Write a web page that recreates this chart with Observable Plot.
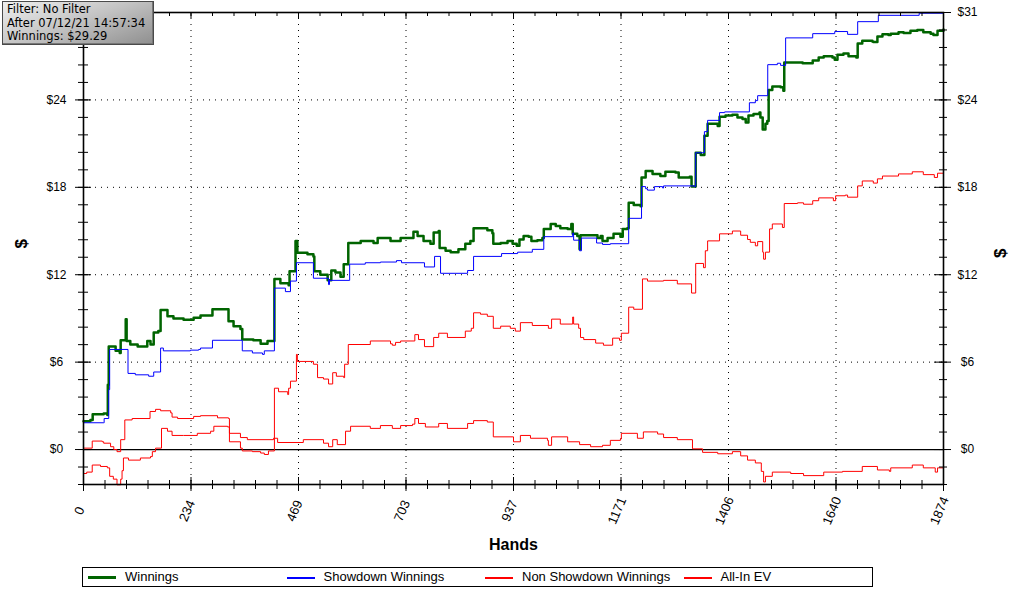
<!DOCTYPE html>
<html><head><meta charset="utf-8">
<script src="https://cdn.jsdelivr.net/npm/d3@7"></script>
<script src="https://cdn.jsdelivr.net/npm/@observablehq/plot@0.6"></script>
<style>
html,body{margin:0;padding:0;background:#fff;}
#wrap{position:relative;width:1022px;height:592px;overflow:hidden;font-family:"Liberation Sans",Arial,sans-serif;}
#chart{position:absolute;left:0;top:0;}
#info{position:absolute;left:2px;top:1px;width:146px;height:41px;border:1px solid #4a4a4a;background:linear-gradient(160deg,#efefef 0%,#c2c2c2 50%,#8f8f8f 100%);font-family:"DejaVu Sans",Verdana,sans-serif;font-size:11.5px;line-height:13.6px;padding:1px 0 0 4px;color:#000;white-space:nowrap;box-shadow:inset -1px -1px 0 #777;}
#legend{position:absolute;left:82px;top:567px;width:791px;height:20px;border:1px solid #000;box-sizing:border-box;background:#fff;}
.sw{position:absolute;top:9px;width:28px;}
.lt{position:absolute;top:1px;font-size:13px;line-height:16px;color:#000;white-space:nowrap;}
</style></head>
<body>
<div id="wrap">
  <div id="chart"></div>
  <div id="info"></div>
  <div id="legend"></div>
</div>
<script>
// ---- data: [hand, dollars] ----
const winnings = [[0,2.0],[15,2.1],[20,2.5],[44,2.55],[52,2.45],[53,4.6],[55,7.3],[70,7.0],[79,6.85],[81,7.75],[92,9.25],[94,7.7],[102,7.45],[118,7.3],[139,7.7],[146,7.45],[153,8.3],[163,8.4],[168,9.9],[183,9.45],[196,9.3],[218,9.2],[240,9.35],[255,9.5],[281,9.95],[309,9.95],[316,9.1],[327,8.75],[342,8.55],[346,7.8],[370,7.75],[386,7.5],[401,7.7],[414,7.7],[416,12.1],[429,11.8],[447,11.65],[449,12.65],[460,12.65],[462,14.8],[466,13.95],[488,13.85],[501,13.7],[503,12.65],[516,12.4],[532,12.0],[540,12.7],[549,12.55],[560,12.25],[567,13.15],[577,14.65],[604,14.8],[632,14.65],[641,15.0],[669,14.8],[691,15.0],[719,15.45],[728,15.15],[741,14.8],[756,14.6],[763,15.4],[774,15.5],[776,14.3],[789,14.1],[800,14.0],[817,14.2],[832,14.6],[843,14.8],[850,15.7],[865,15.7],[880,15.55],[891,15.35],[893,14.6],[909,14.65],[924,14.8],[935,14.6],[944,14.45],[950,14.9],[959,15.15],[970,15.1],[976,14.8],[989,14.85],[1000,15.0],[1003,15.65],[1018,16.0],[1029,15.85],[1039,15.7],[1055,15.65],[1063,16.0],[1066,15.3],[1076,15.15],[1081,14.2],[1083,15.2],[1111,15.2],[1120,15.0],[1127,15.15],[1131,14.8],[1142,15.0],[1155,15.3],[1170,15.1],[1175,15.65],[1185,15.7],[1188,17.5],[1199,17.35],[1214,17.25],[1216,19.3],[1225,19.75],[1240,19.55],[1257,19.4],[1268,19.7],[1290,19.65],[1297,19.3],[1321,19.35],[1325,18.65],[1334,21.05],[1345,20.9],[1353,22.25],[1360,23.1],[1382,22.95],[1386,23.6],[1399,23.7],[1414,23.75],[1425,23.55],[1436,23.45],[1443,23.2],[1449,23.7],[1460,23.8],[1473,23.9],[1475,23.55],[1480,22.7],[1486,23.1],[1490,23.3],[1493,25.5],[1501,25.75],[1519,25.7],[1525,25.45],[1527,27.45],[1556,27.45],[1567,27.4],[1578,27.4],[1589,27.6],[1602,27.8],[1613,27.9],[1632,27.8],[1637,27.65],[1643,28.0],[1656,28.1],[1667,27.9],[1684,27.8],[1687,28.8],[1697,29.0],[1719,28.95],[1721,28.9],[1730,29.3],[1741,29.45],[1754,29.4],[1759,29.5],[1776,29.6],[1787,29.55],[1802,29.7],[1817,29.75],[1830,29.6],[1846,29.5],[1852,29.4],[1861,29.7],[1874,29.8]];

const showdownWinnings = [[0,1.9],[44,1.9],[45,2.2],[55,4.25],[57,7.1],[97,5.4],[113,5.3],[142,5.2],[153,5.5],[168,7.2],[174,7.0],[233,7.05],[251,7.1],[255,7.2],[281,7.75],[346,7.0],[368,6.85],[390,6.75],[394,7.0],[416,11.45],[440,11.2],[451,11.95],[464,13.25],[501,12.15],[534,11.7],[536,12.0],[580,13.15],[614,13.25],[647,13.3],[682,13.4],[693,13.25],[743,12.95],[765,13.7],[778,12.5],[837,12.7],[850,13.7],[911,13.9],[946,14.0],[978,14.2],[1003,15.1],[1066,15.35],[1068,14.85],[1081,14.1],[1085,15.0],[1118,14.65],[1131,14.55],[1148,14.6],[1188,16.4],[1216,18.65],[1225,18.5],[1229,18.4],[1244,18.65],[1262,18.55],[1264,18.7],[1331,18.65],[1334,21.05],[1353,22.55],[1360,23.35],[1386,23.9],[1397,23.95],[1451,24.6],[1464,24.75],[1469,25.1],[1491,27.3],[1512,27.4],[1519,27.25],[1530,29.2],[1589,29.5],[1637,29.65],[1665,29.45],[1687,30.35],[1732,30.8],[1821,30.95],[1874,30.95]];

const nonShowdownWinnings = [[0,0.1],[19,0.6],[41,0.55],[44,0.45],[59,0.2],[66,0.0],[73,-0.15],[81,0.7],[90,2.1],[106,2.2],[145,2.7],[157,2.85],[168,2.75],[190,2.6],[193,2.3],[205,2.2],[240,2.35],[255,2.4],[292,2.25],[316,2.2],[318,1.15],[342,0.85],[357,0.7],[414,0.8],[423,0.5],[479,0.7],[523,0.45],[534,0.2],[543,0.7],[553,0.35],[571,1.3],[582,1.65],[625,1.5],[647,1.7],[673,1.5],[691,1.7],[717,1.8],[722,2.2],[730,1.85],[745,1.6],[774,1.85],[793,1.5],[837,1.85],[850,2.05],[880,1.95],[893,0.9],[937,0.55],[952,1.0],[974,0.8],[1011,0.65],[1013,0.3],[1020,0.9],[1055,0.55],[1081,0.35],[1105,0.2],[1131,0.3],[1148,0.65],[1170,0.75],[1172,1.15],[1207,0.8],[1220,1.25],[1251,1.1],[1264,0.85],[1294,0.7],[1327,0.05],[1349,-0.2],[1382,-0.3],[1414,-0.15],[1432,-0.45],[1447,-0.75],[1464,-0.95],[1477,-1.55],[1482,-2.3],[1486,-1.9],[1501,-1.6],[1541,-1.7],[1569,-1.85],[1613,-1.6],[1654,-1.55],[1697,-1.2],[1730,-1.45],[1756,-1.55],[1759,-1.3],[1806,-1.1],[1830,-1.3],[1856,-1.6],[1861,-1.3],[1874,-1.3]];

const allInEV = [[0,-1.7],[7,-1.6],[19,-1.1],[37,-1.2],[52,-1.3],[57,-1.9],[65,-2.1],[73,-2.5],[81,-2.1],[84,-1.5],[87,-0.6],[98,-0.75],[124,-0.6],[146,-0.5],[150,-0.15],[157,0.1],[170,1.5],[183,1.3],[193,1.0],[218,1.0],[248,1.15],[277,1.3],[284,1.65],[314,1.6],[318,0.55],[342,0.1],[346,-0.1],[368,-0.15],[386,-0.25],[394,-0.35],[403,-0.1],[416,4.35],[425,4.1],[445,3.9],[447,4.35],[451,4.85],[464,6.75],[466,6.25],[501,6.05],[510,5.1],[523,5.0],[534,4.65],[543,5.45],[551,5.2],[567,5.1],[569,6.05],[577,7.45],[625,7.7],[669,7.5],[673,7.4],[680,7.6],[691,7.7],[722,8.15],[730,7.8],[743,7.3],[763,7.95],[774,8.25],[793,7.95],[832,8.4],[845,8.6],[850,9.7],[865,9.6],[880,9.45],[893,8.6],[909,8.75],[930,8.6],[941,8.4],[952,9.0],[978,8.8],[1013,8.6],[1020,9.25],[1039,8.9],[1066,9.4],[1068,8.9],[1079,8.6],[1083,7.95],[1090,7.8],[1116,7.55],[1133,7.4],[1153,7.9],[1168,7.75],[1172,8.25],[1188,10.1],[1199,9.95],[1218,12.1],[1229,11.95],[1264,12.0],[1294,11.75],[1325,11.1],[1334,13.2],[1351,12.9],[1355,14.1],[1360,14.8],[1386,15.3],[1414,15.5],[1432,15.2],[1447,14.9],[1453,14.7],[1464,14.45],[1469,14.75],[1480,14.0],[1482,13.5],[1486,14.0],[1495,15.65],[1501,16.0],[1523,15.75],[1527,17.45],[1556,17.5],[1569,17.4],[1589,17.65],[1602,17.85],[1634,17.65],[1639,18.0],[1660,18.05],[1665,17.9],[1687,18.7],[1697,19.05],[1721,18.9],[1730,19.2],[1741,19.4],[1776,19.55],[1806,19.7],[1830,19.5],[1854,19.3],[1861,19.6],[1874,19.7]];

// ---- ticks & labels ----
const xTickValues = [0, 234.25, 468.5, 702.75, 937, 1171.25, 1405.5, 1639.75, 1874];
const xTickLabels = ["0","234","469","703","937","1171","1406","1640","1874"];
const yTickValues = [0, 6.2, 12.4, 18.6, 24.8, 31];
const yTickLabels = ["$0","$6","$12","$18","$24","$31"];
const yDomain = [-2.48, 31];
const xDomain = [0, 1874];

const infoLines = ["Filter: No Filter", "After 07/12/21 14:57:34", "Winnings: $29.29"];

const seriesNames = ["Winnings", "Showdown Winnings", "Non Showdown Winnings", "All-In EV"];
const seriesColors = ["#006400", "#0000ff", "#ff0000", "#ff0000"];
const seriesData = [winnings, showdownWinnings, nonShowdownWinnings, allInEV];
const seriesWidths = [2.5, 1, 1, 1];

// ---- layout ----
const W = 1022, H = 560, mL = 83, mR = 79, mT = 12, mB = 76;
const innerW = W - mL - mR, innerH = H - mT - mB;

const yMinor = d3.range(-2, 26).map(k => k * 1.24);
const xMinor = d3.range(0, 41).map(k => k * 1874 / 40);
const yGrid = yTickValues.filter(v => v > 0 && v < 31);
const xGrid = xTickValues.filter(v => v > 0 && v < 1874);
// the top-left label sits under the info box in the reference
const yLeftIdx = yTickValues.map((v, i) => i).filter(i => yTickValues[i] < 31);

const lineMarks = seriesData.map((data, i) => Plot.line(data, {
  x: d => d[0], y: d => d[1], curve: "step-after",
  stroke: seriesColors[i], strokeWidth: seriesWidths[i]
}));

const chart = Plot.plot({
  width: W, height: H,
  marginLeft: mL, marginRight: mR, marginTop: mT, marginBottom: mB,
  x: {domain: xDomain, axis: null},
  y: {domain: yDomain, axis: null},
  style: {fontFamily: "'Liberation Sans', Arial, sans-serif", background: "transparent", overflow: "visible"},
  marks: [
    Plot.ruleY(yGrid, {y: d => d, stroke: "black", strokeDasharray: "1,5"}),
    Plot.ruleX(xGrid, {x: d => d, stroke: "black", strokeDasharray: "1,5"}),
    Plot.ruleY([0], {y: d => d, stroke: "black", strokeWidth: 1.2}),
    ...lineMarks,
    Plot.frame({stroke: "black", strokeWidth: 1.6}),
    // left ticks
    Plot.tickY(yMinor, {y: d => d, insetLeft: -5, insetRight: innerW - 5, stroke: "black"}),
    Plot.tickY(yTickValues, {y: d => d, insetLeft: -8, insetRight: innerW - 8, stroke: "black"}),
    // right ticks
    Plot.tickY(yMinor, {y: d => d, insetLeft: innerW - 4, insetRight: -4, stroke: "black"}),
    Plot.tickY(yTickValues, {y: d => d, insetLeft: innerW - 9, insetRight: -8, stroke: "black"}),
    // bottom ticks
    Plot.tickX(xMinor, {x: d => d, insetTop: innerH - 4, insetBottom: -5, stroke: "black"}),
    Plot.tickX(xTickValues, {x: d => d, insetTop: innerH - 7, insetBottom: -7, stroke: "black"}),
    // top ticks
    Plot.tickX(xMinor, {x: d => d, insetTop: 0, insetBottom: innerH - 4, stroke: "black"}),
    Plot.tickX(xTickValues, {x: d => d, insetTop: 0, insetBottom: innerH - 6, stroke: "black"}),
    // tick labels
    Plot.text(yLeftIdx, {y: i => yTickValues[i], text: i => yTickLabels[i], frameAnchor: "left", dx: -27, textAnchor: "middle", fontSize: 12, fill: "black"}),
    Plot.text(yTickValues, {y: d => d, text: (d, i) => yTickLabels[i], frameAnchor: "right", dx: 24, textAnchor: "middle", fontSize: 12, fill: "black"}),
    Plot.text(xTickValues, {x: d => d, text: (d, i) => xTickLabels[i], frameAnchor: "bottom", dy: 28, rotate: -67, textAnchor: "middle", fontSize: 13, fill: "black"}),
    // axis titles
    Plot.text(["$"], {text: d => d, frameAnchor: "left", dx: -62, rotate: -90, fontWeight: "bold", fontSize: 17, fill: "black"}),
    Plot.text(["$"], {text: d => d, frameAnchor: "right", dx: 57, rotate: -90, fontWeight: "bold", fontSize: 17, fill: "black"}),
    Plot.text(["Hands"], {text: d => d, frameAnchor: "bottom", dy: 65, fontWeight: "bold", fontSize: 16, fill: "black"})
  ]
});
document.getElementById("chart").appendChild(chart);

// info box
document.getElementById("info").innerHTML = infoLines.map(s => `<div>${s}</div>`).join("");

// legend
const legend = document.getElementById("legend");
seriesNames.forEach((name, i) => {
  const off = i * 198.5;
  const sw = document.createElement("div");
  sw.className = "sw";
  sw.style.left = (5 + off) + "px";
  sw.style.borderTop = `${i === 0 ? 3 : 2}px solid ${seriesColors[i]}`;
  sw.style.top = (i === 0 ? 8 : 8.5) + "px";
  legend.appendChild(sw);
  const t = document.createElement("div");
  t.className = "lt";
  t.style.left = (42 + off) + "px";
  t.textContent = name;
  legend.appendChild(t);
});
</script>
</body></html>
